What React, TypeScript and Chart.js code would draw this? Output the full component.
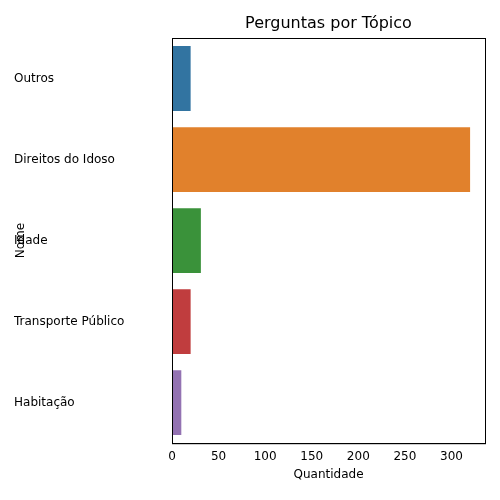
import React, { useEffect, useRef } from "react";
import { Chart, registerables } from "chart.js";
Chart.register(...registerables);

const categories = ["Outros", "Direitos do Idoso", "Idade", "Transporte Público", "Habitação"];
const values = [20, 320, 31, 20, 10];
const colors = ["#3274a1", "#e1812c", "#3a923a", "#c03d3e", "#9372b2"];
const titleText = "Perguntas por Tópico";

const frame = {
  id: "frame",
  afterDraw(c: any) {
    const { ctx, chartArea: a } = c;
    ctx.save();
    ctx.strokeStyle = "#000";
    ctx.lineWidth = 1;
    ctx.strokeRect(a.left + 0.5, a.top + 0.5, a.right - a.left, a.bottom - a.top);
    ctx.fillStyle = "#000";
    ctx.font = "16px 'DejaVu Sans'";
    ctx.textAlign = "center";
    ctx.textBaseline = "bottom";
    ctx.fillText(titleText, (a.left + a.right) / 2, a.top - 6);
    ctx.restore();
  },
};

export default function App() {
  const ref = useRef<HTMLCanvasElement>(null);
  useEffect(() => {
    const font = { family: "DejaVu Sans", size: 12 };
    const chart = new Chart(ref.current!, {
      type: "bar",
      data: { labels: categories, datasets: [{ data: values, backgroundColor: colors, categoryPercentage: 1, barPercentage: 0.8 }] },
      options: {
        indexAxis: "y",
        animation: false,
        responsive: false,
        layout: { padding: { left: 14, right: 15, top: 38, bottom: 18 } },
        plugins: { legend: { display: false }, tooltip: { enabled: false } },
        scales: {
          x: {
            min: 0, max: 336,
            afterBuildTicks: (s: any) => { s.ticks = s.ticks.filter((t: any) => t.value % 50 === 0); },
            grid: { display: false, tickLength: 4, tickColor: "#000" },
            border: { color: "#000" },
            ticks: { stepSize: 50, color: "#000", font, padding: 2 },
            title: { display: true, text: "Quantidade", color: "#000", font, padding: { top: 2, bottom: 0 } },
          },
          y: {
            afterFit: (s: any) => { s.width = 158; },
            grid: { display: false, tickLength: 4, tickColor: "#000" },
            border: { color: "#000" },
            ticks: { color: "#000", font, padding: 4, crossAlign: "far" },
            title: { display: true, text: "Nome", color: "#000", font, padding: { top: 0, bottom: 0 } },
          },
        },
      },
      plugins: [frame],
    });
    return () => chart.destroy();
  }, []);
  return <canvas ref={ref} width={500} height={500} style={{ position: "absolute", left: 0, top: 0 }} />;
}
